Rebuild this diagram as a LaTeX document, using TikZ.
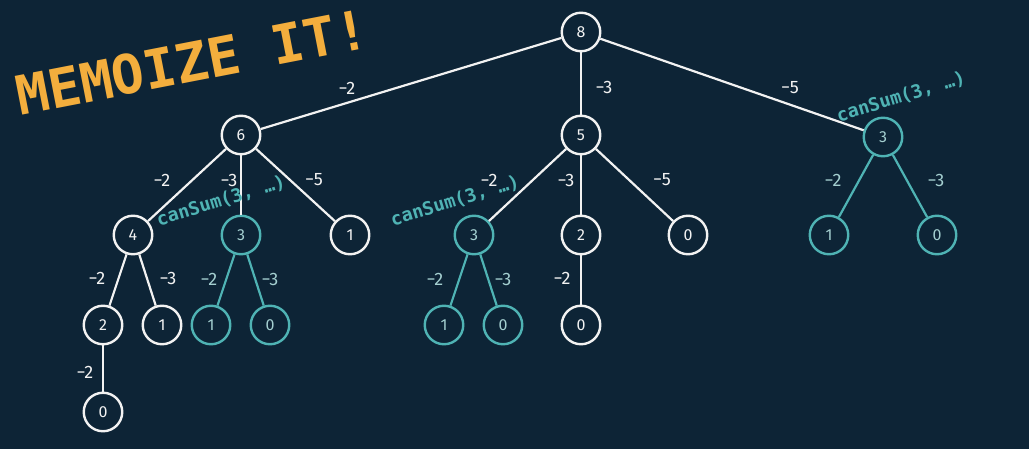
\documentclass[tikz,border=0pt]{standalone}
\usepackage{fontspec}
\setmainfont{Fira Sans}
\newfontfamily\monob{DejaVu Sans Mono}
\definecolor{bg}{HTML}{0D2436}
\definecolor{tealc}{HTML}{4FB3B4}
\definecolor{teallab}{HTML}{A4CFD0}
\definecolor{wline}{HTML}{F2F2F2}
\definecolor{orng}{HTML}{F3AE3D}
\tikzset{
  nd/.style={circle, draw=wline, line width=2.4pt, fill=bg, minimum size=38.5pt, inner sep=0pt, text=wline, font=\fontsize{16}{16}\selectfont},
  tnd/.style={nd, draw=tealc, text=teallab},
  wedge/.style={draw=wline, line width=2.2pt},
  tedge/.style={draw=tealc, line width=2.2pt},
  elab/.style={text=wline, font=\fontsize{18}{18}\selectfont, inner sep=0pt},
  telab/.style={elab, text=teallab},
  memo/.style={text=tealc, font=\monob\bfseries\fontsize{18.5}{18.5}\selectfont, rotate=17, inner sep=0pt},
}
\begin{document}
\begin{tikzpicture}[x=1pt,y=-1pt]
\fill[bg] (0,0) rectangle (1029,449);
\useasboundingbox (0,0) rectangle (1029,449);
% nodes
\node[nd] (n8) at (581,32) {8};
\node[nd] (n6) at (241,135) {6};
\node[nd] (n5) at (581,135) {5};
\node[tnd] (n3r) at (883,137) {3};
\node[nd] (n4) at (133,235) {4};
\node[tnd] (n3a) at (241,235) {3};
\node[nd] (n1a) at (350,235) {1};
\node[tnd] (n3b) at (474,235) {3};
\node[nd] (n2m) at (581,235) {2};
\node[nd] (n0m) at (688,235) {0};
\node[tnd] (n1r) at (829,235) {1};
\node[tnd] (n0r) at (937,235) {0};
\node[nd] (n2l) at (103,325) {2};
\node[nd] (n1l) at (162,325) {1};
\node[tnd] (n1t) at (211,325) {1};
\node[tnd] (n0t) at (270,325) {0};
\node[tnd] (n1u) at (444,325) {1};
\node[tnd] (n0u) at (503,325) {0};
\node[nd] (n0mm) at (581,325) {0};
\node[nd] (n0l) at (103,412) {0};
% edges
\draw[wedge] (n8) -- (n6);
\draw[wedge] (n8) -- (n5);
\draw[wedge] (n8) -- (n3r);
\draw[wedge] (n6) -- (n4);
\draw[wedge] (n6) -- (n3a);
\draw[wedge] (n6) -- (n1a);
\draw[wedge] (n5) -- (n3b);
\draw[wedge] (n5) -- (n2m);
\draw[wedge] (n5) -- (n0m);
\draw[tedge] (n3r) -- (n1r);
\draw[tedge] (n3r) -- (n0r);
\draw[wedge] (n4) -- (n2l);
\draw[wedge] (n4) -- (n1l);
\draw[tedge] (n3a) -- (n1t);
\draw[tedge] (n3a) -- (n0t);
\draw[tedge] (n3b) -- (n1u);
\draw[tedge] (n3b) -- (n0u);
\draw[wedge] (n2m) -- (n0mm);
\draw[wedge] (n2l) -- (n0l);
% edge labels
\node[elab] (l1) at (347,88) {−2};
\node[elab] (l2) at (604,87) {−3};
\node[elab] (l3) at (790,88) {−5};
\node[elab] (l4) at (162,180) {−2};
\node[elab] (l5) at (229,180) {−3};
\node[elab] (l6) at (314,180) {−5};
\node[elab] (l7) at (489,180) {−2};
\node[elab] (l8) at (566,180) {−3};
\node[elab] (l9) at (662,180) {−5};
\node[telab] (l10) at (833,180) {−2};
\node[telab] (l11) at (936,180) {−3};
\node[elab] (l12) at (97,278) {−2};
\node[elab] (l13) at (168,278) {−3};
\node[telab] (l14) at (209,279) {−2};
\node[telab] (l15) at (270,279) {−3};
\node[telab] (l16) at (435,279) {−2};
\node[telab] (l17) at (503,279) {−3};
\node[elab] (l18) at (562,278) {−2};
\node[elab] (l19) at (85,372) {−2};
% canSum annotations
\node[memo] (c1) at (221,201) {canSum(3, …)};
\node[memo] (c2) at (455,201) {canSum(3, …)};
\node[memo] (c3) at (901,97) {canSum(3, …)};
% title
\node[text=orng, font=\monob\bfseries\fontsize{54}{54}\selectfont, rotate=11, inner sep=0pt] (title) at (192,62) {MEMOIZE IT!};
\end{tikzpicture}
\end{document}
